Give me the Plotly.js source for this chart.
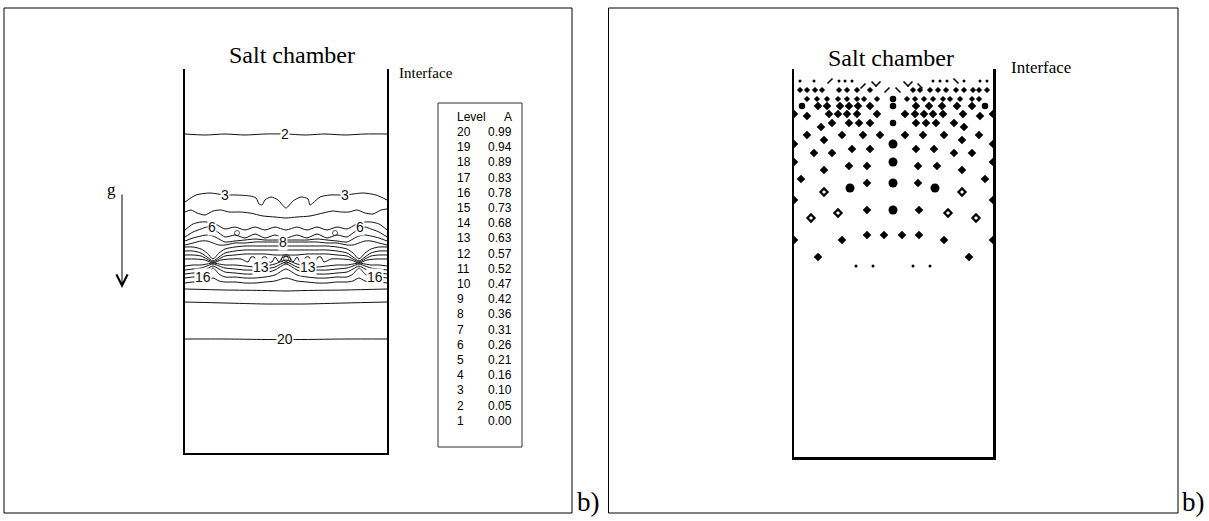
<!DOCTYPE html>
<html><head><meta charset="utf-8">
<script src="https://cdn.plot.ly/plotly-3.0.1.min.js"></script>
<style>html,body{margin:0;padding:0;background:#fff}#plot{width:1209px;height:521px}</style>
</head><body><div id="plot"></div>
<script>
// ---------------- DATA ----------------
// Left panel: contour lines of A in the salt chamber (x across chamber, depth from interface)
const gridX = [0, 8, 16, 22, 28, 34, 40, 50, 60, 70, 80, 90, 101, 112, 122, 132, 142, 152, 162, 168, 174, 180, 186, 194, 202];

const c2x = [0, 20, 40, 60, 80, 101, 120, 140, 160, 180, 202];
const c2y = [65, 66, 65, 66, 65, 65, 66, 65, 66, 65, 65];

const c3x = [0, 11, 25, 40, 51, 65, 71, 74, 77, 80, 86, 93, 101, 108, 116, 123, 125, 128, 135, 145, 160, 178, 191, 202];
const c3y = [133, 126, 124, 126, 126, 127, 129, 135, 136, 131, 128, 131, 139, 132, 128, 130, 136, 134, 128, 126, 126, 124, 126, 131];

const c4x = [0, 6, 12, 20, 28, 36, 44, 55, 65, 78, 90, 101, 112, 125, 138, 148, 156, 164, 172, 180, 188, 196, 202];
const c4y = [143, 141, 144, 146, 142, 141, 143, 143, 144, 147, 148, 149, 148, 147, 144, 142, 143, 143, 141, 144, 145, 141, 140];

const c5y = [161, 155, 153, 153, 154, 157, 160, 158, 161, 158, 161, 158, 161, 158, 161, 158, 161, 158, 160, 157, 154, 153, 153, 155, 161];
const c6y = [168, 163, 160, 158, 160, 164, 168, 166, 169, 165, 169, 166, 169, 166, 169, 165, 169, 166, 168, 164, 160, 158, 160, 163, 168];
const c7y = [172, 169, 167, 166, 167, 170, 173, 172, 171, 170, 171, 171, 171, 171, 171, 170, 171, 172, 173, 170, 167, 166, 167, 169, 172];
const c8y = [176, 174, 172, 172, 174, 176, 176, 174, 174, 173, 173, 173, 173, 173, 173, 173, 174, 174, 176, 176, 174, 172, 172, 174, 176];
const c9y = [178, 178, 180, 184, 190, 184, 180, 178, 177, 177, 177, 177, 177, 177, 177, 177, 177, 178, 180, 184, 190, 184, 180, 178, 178];
const c10y = [182, 182, 184, 188, 192, 188, 184, 182, 181, 181, 181, 181, 181, 181, 181, 181, 181, 182, 184, 188, 192, 188, 184, 182, 182];
const c11y = [186, 186, 187, 190, 193, 190, 187, 186, 185, 185, 185, 186, 186, 186, 185, 185, 185, 186, 187, 190, 193, 190, 187, 186, 186];

const c12x = [0, 10, 20, 28, 36, 46, 56, 63, 66, 69, 72, 75, 78, 81, 84, 87, 90, 94, 97, 101, 105, 108, 112, 115, 118, 121, 124, 127, 130, 133, 136, 139, 146, 156, 166, 174, 182, 192, 202];
const c12y = [190, 190, 191, 194, 191, 190, 190, 193, 188, 188, 193, 193, 188, 188, 193, 193, 188, 193, 189, 187, 189, 193, 188, 193, 193, 188, 188, 193, 193, 188, 188, 193, 190, 190, 191, 194, 191, 190, 190];

const c13y = [197, 196, 196, 195, 194, 195, 196, 196, 197, 198, 197, 195, 191, 195, 197, 198, 197, 196, 196, 195, 194, 195, 196, 196, 197];
const c14y = [201, 200, 199, 197, 195, 197, 199, 200, 201, 201, 200, 198, 193, 198, 200, 201, 201, 200, 199, 197, 195, 197, 199, 200, 201];
const c15y = [205, 204, 203, 200, 197, 200, 203, 204, 205, 205, 204, 201, 195, 201, 204, 205, 205, 204, 203, 200, 197, 200, 203, 204, 205];
const c16y = [209, 208, 208, 205, 199, 205, 208, 208, 209, 209, 208, 206, 200, 206, 208, 209, 209, 208, 208, 205, 199, 205, 208, 208, 209];
const c17y = [214, 213, 213, 212, 209, 212, 213, 213, 214, 214, 213, 212, 209, 212, 213, 214, 214, 213, 213, 212, 209, 212, 213, 213, 214];

const cLowX = [0, 40, 80, 101, 120, 160, 202];
const c18y = [220, 221, 221.5, 222, 221.5, 221, 220];
const c19y = [233, 234, 235, 235, 235, 234, 233];
const c20y = [270, 270, 270.5, 270.5, 270.5, 270, 270];

// small closed contour loops
const loopX = [52, 150, 101, 101];
const loopY = [164, 164, 190, 190];

// contour labels
const labelText = ['2', '3', '3', '6', '6', '8', '13', '13', '16', '16', '20'];
const labelX = [100, 40, 160, 27, 175, 98, 76, 123, 18, 190, 100];
const labelY = [65, 126, 126, 158, 158, 173, 198, 198, 208, 208, 270];

// level table
const levelNums = ['20', '19', '18', '17', '16', '15', '14', '13', '12', '11', '10', '9', '8', '7', '6', '5', '4', '3', '2', '1'];
const levelA = ['0.99', '0.94', '0.89', '0.83', '0.78', '0.73', '0.68', '0.63', '0.57', '0.52', '0.47', '0.42', '0.36', '0.31', '0.26', '0.21', '0.16', '0.10', '0.05', '0.00'];

// Right panel: droplets / particles in the salt chamber
const tinyX = [6, 20, 45, 51, 58, 139, 146, 153, 170, 186, 193, 62, 79, 119, 136];
const tinyY = [12, 12, 12, 12, 12, 12, 12, 12, 12, 12, 12, 197, 197, 197, 197];

const slashNEX = [36, 69, 93, 84, 116];
const slashNEY = [12, 17, 21, 15, 15];
const slashNWX = [104, 126, 162, 80, 112];
const slashNWY = [21, 17, 12, 15, 15];

const smallDiamondX = [6, 13, 21, 28, 45, 53, 63, 76, 119, 126, 136, 144, 152, 162, 170, 179, 185, 193,
                       13, 23, 33, 44, 53, 63, 70, 83, 113, 121, 130, 139, 149, 156, 166, 178, 185];
const smallDiamondY = [21, 21, 21, 21, 21, 21, 21, 21, 21, 21, 21, 21, 21, 21, 21, 21, 21, 21,
                       30, 30, 30, 30, 30, 30, 30, 30, 30, 30, 30, 30, 30, 30, 30, 30, 30];

const diamondX = [
  24, 33, 46, 55, 64, 76, 122, 135, 148, 163, 178,
  0, 13, 35, 44, 53, 63, 83, 111, 121, 130, 139, 149, 169, 186, 199,
  38, 55, 65, 76, 122, 132, 142, 160,
  27, 170,
  13, 48, 69, 86, 111, 129, 150, 185,
  30, 168,
  0, 199,
  58, 76, 122, 140,
  20, 38, 160, 178,
  0, 199,
  55, 73, 124, 143,
  30, 168,
  7, 191,
  73, 124,
  0, 199,
  73, 125,
  73, 90, 108, 125,
  48, 150, 0, 199,
  24, 175];
const diamondY = [
  37, 37, 37, 37, 37, 37, 37, 37, 37, 37, 37,
  45, 47, 45, 45, 45, 45, 45, 45, 45, 45, 45, 45, 45, 47, 45,
  54, 54, 54, 54, 54, 54, 54, 54,
  58, 58,
  66, 66, 66, 66, 66, 66, 66, 66,
  71, 71,
  75, 75,
  80, 80, 80, 80,
  84, 84, 84, 84,
  93, 93,
  97, 97, 97, 97,
  101, 101,
  110, 110,
  114, 114,
  131, 131,
  141, 141,
  166, 166, 166, 166,
  171, 171, 171, 171,
  188, 188];

const blobSmallX = [99, 8, 99, 191, 99];
const blobSmallY = [30, 37, 37, 37, 54];
const blobBigX = [99, 99, 99, 56, 141, 99];
const blobBigY = [75, 93, 114, 119, 119, 141];

const ringX = [30, 168, 44, 154, 17, 182];
const ringY = [123, 123, 144, 144, 149, 149];

// ---------------- FIGURE ----------------
const W = 1209, H = 521;
const px = v => v / W;
const py = v => 1 - v / H;

const black = '#000';
const traces = [];
const contourSeries = [
  [c2x, c2y], [c3x, c3y], [c4x, c4y],
  [gridX, c5y], [gridX, c6y], [gridX, c7y], [gridX, c8y], [gridX, c9y], [gridX, c10y], [gridX, c11y],
  [c12x, c12y],
  [gridX, c13y], [gridX, c14y], [gridX, c15y], [gridX, c16y], [gridX, c17y],
  [cLowX, c18y], [cLowX, c19y], [cLowX, c20y]
];
contourSeries.forEach(([xs, ys]) => {
  traces.push({
    type: 'scatter', mode: 'lines', x: xs, y: ys, xaxis: 'x', yaxis: 'y',
    line: {color: '#111', width: 1, shape: 'spline', smoothing: 0.7},
    hoverinfo: 'skip'
  });
});
traces.push({
  type: 'scatter', mode: 'markers', x: loopX, y: loopY, xaxis: 'x', yaxis: 'y',
  marker: {symbol: 'circle-open', size: [5, 5, 9, 5], color: '#111', line: {width: 1, color: '#111'}},
  hoverinfo: 'skip'
});

function dots(xs, ys, marker) {
  traces.push({type: 'scatter', mode: 'markers', x: xs, y: ys, xaxis: 'x2', yaxis: 'y2',
    marker: marker, hoverinfo: 'skip'});
}
dots(tinyX, tinyY, {symbol: 'circle', size: 3, color: black, line: {width: 0}});
dots(slashNEX, slashNEY, {symbol: 'line-ne', size: 5, color: black, line: {width: 1.6, color: black}});
dots(slashNWX, slashNWY, {symbol: 'line-nw', size: 5, color: black, line: {width: 1.6, color: black}});
dots(smallDiamondX, smallDiamondY, {symbol: 'diamond', size: 4.8, color: black, line: {width: 0}});
dots(diamondX, diamondY, {symbol: 'diamond', size: 6.6, color: black, line: {width: 0}});
dots(blobSmallX, blobSmallY, {symbol: 'circle', size: 6.5, color: black, line: {width: 0}});
dots(blobBigX, blobBigY, {symbol: 'circle', size: 9, color: black, line: {width: 0}});
dots(ringX, ringY, {symbol: 'diamond-open', size: 5.5, color: black, line: {width: 2.2, color: black}});

const axCommon = {showgrid: false, zeroline: false, showticklabels: false, ticks: '', fixedrange: true};

const serif = 'Liberation Serif, Times New Roman, serif';
const sans = 'Liberation Sans, Arial, sans-serif';

const annotations = [];
// contour labels
labelText.forEach((t, i) => {
  annotations.push({xref: 'x', yref: 'y', x: labelX[i], y: labelY[i], text: t, showarrow: false,
    font: {family: sans, size: 14, color: '#111'}, bgcolor: '#fff', borderpad: 0,
    xanchor: 'center', yanchor: 'middle'});
});
// titles
const paperText = (x, y, text, size, family, xanchor) => annotations.push({
  xref: 'paper', yref: 'paper', x: px(x), y: py(y), text: text, showarrow: false,
  font: {family: family, size: size, color: '#000'}, xanchor: xanchor || 'center', yanchor: 'middle'});
paperText(292, 55, 'Salt chamber', 24, serif);
paperText(891, 58, 'Salt chamber', 24, serif);
paperText(397, 73, 'Interface', 15, serif, 'left');
paperText(1009, 68, 'Interface', 17, serif, 'left');
paperText(575, 502, 'b)', 27, serif, 'left');
paperText(1180, 502, 'b)', 27, serif, 'left');
paperText(111, 189, 'g', 17, serif);
// table
paperText(455, 117, 'Level', 12, sans, 'left');
paperText(514, 117, 'A', 12, sans, 'right');
levelNums.forEach((n, i) => {
  const y = 132 + i * 15.2;
  paperText(455, y, n, 12, sans, 'left');
  paperText(514, y, levelA[i], 12, sans, 'right');
});
// gravity arrow
annotations.push({xref: 'paper', yref: 'paper', x: px(122), y: py(288), ax: 0, ay: -95,
  axref: 'pixel', ayref: 'pixel', text: '', showarrow: true, arrowhead: 5, arrowsize: 2.2,
  arrowwidth: 1, arrowcolor: '#000'});

const shapes = [
  {type: 'rect', xref: 'paper', yref: 'paper', x0: px(4), x1: px(572), y0: py(8), y1: py(513), line: {color: '#000', width: 1}},
  {type: 'rect', xref: 'paper', yref: 'paper', x0: px(608.5), x1: px(1178), y0: py(8), y1: py(513), line: {color: '#000', width: 1}},
  {type: 'rect', xref: 'paper', yref: 'paper', x0: px(438), x1: px(522), y0: py(103), y1: py(447), line: {color: '#333', width: 1}}
];

const layout = {
  width: W, height: H, margin: {l: 0, r: 0, t: 0, b: 0},
  paper_bgcolor: '#fff', plot_bgcolor: 'rgba(0,0,0,0)', showlegend: false,
  xaxis: Object.assign({}, axCommon, {domain: [px(185), px(387)], range: [0, 202], anchor: 'y',
    showline: true, linewidth: 2, linecolor: '#000', mirror: false}),
  yaxis: Object.assign({}, axCommon, {domain: [py(453), py(69)], range: [384, 0], anchor: 'x',
    showline: true, linewidth: 2, linecolor: '#000', mirror: true}),
  xaxis2: Object.assign({}, axCommon, {domain: [px(794), px(993)], range: [0, 199], anchor: 'y2',
    showline: true, linewidth: 2.5, linecolor: '#000', mirror: false}),
  yaxis2: Object.assign({}, axCommon, {domain: [py(457), py(69)], range: [388, 0], anchor: 'x2',
    showline: true, linewidth: 2.5, linecolor: '#000', mirror: true}),
  annotations: annotations,
  shapes: shapes
};

Plotly.newPlot('plot', traces, layout, {displayModeBar: false, staticPlot: true});
</script>
</body></html>
